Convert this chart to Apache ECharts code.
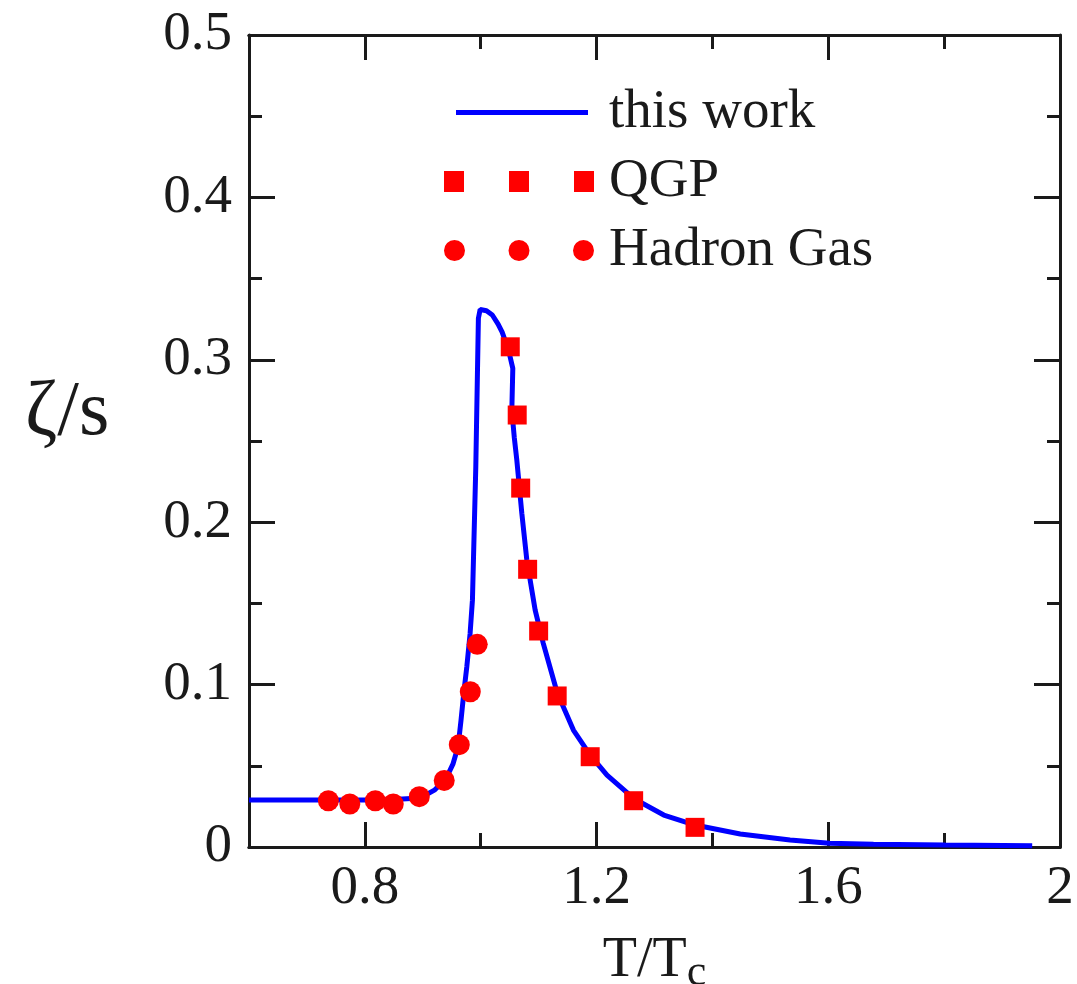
<!DOCTYPE html>
<html>
<head>
<meta charset="utf-8">
<script src="https://cdn.jsdelivr.net/npm/echarts@6/dist/echarts.min.js"></script>
<style>
  html, body { margin: 0; padding: 0; background: #fff; }
  #chart { width: 1077px; height: 984px; }
</style>
</head>
<body>
<div id="chart"></div>
<script>
// ζ/s vs T/Tc
const thisWork = [
    [0.60, 0.029], [0.70, 0.029], [0.80, 0.029], [0.85, 0.0292], [0.88, 0.0298],
    [0.90, 0.031], [0.92, 0.035], [0.94, 0.042], [0.952, 0.051], [0.961, 0.062],
    [0.966, 0.078], [0.971, 0.0956], [0.976, 0.111], [0.9817, 0.1315], [0.9857, 0.152],
    [0.9915, 0.234], [0.996, 0.3255], [0.999, 0.331], [1.01, 0.3302], [1.02, 0.3276],
    [1.03, 0.322], [1.037, 0.317], [1.048, 0.306], [1.0554, 0.2947],
    [1.0530, 0.2935], [1.0537, 0.269], [1.058, 0.252], [1.0623, 0.2383], [1.071, 0.2054],
    [1.0796, 0.1767], [1.094, 0.1459], [1.108, 0.1254], [1.132, 0.095], [1.16, 0.072],
    [1.189, 0.0566], [1.218, 0.0443], [1.264, 0.0299], [1.316, 0.0197], [1.370, 0.0135],
    [1.448, 0.008], [1.534, 0.0043], [1.602, 0.0023], [1.678, 0.0017], [1.802, 0.0012],
    [1.952, 0.0008]
];
const qgp = [
    [1.051, 0.308], [1.063, 0.266], [1.069, 0.221], [1.081, 0.171], [1.100, 0.133],
    [1.132, 0.093], [1.189, 0.0556], [1.264, 0.0285], [1.370, 0.0121]
];
const hadronGas = [
    [0.737, 0.0285], [0.774, 0.0265], [0.818, 0.0285], [0.849, 0.0265], [0.894, 0.031],
    [0.937, 0.041], [0.963, 0.063], [0.982, 0.0956], [0.994, 0.1248]
];
const xMajor = [0.8, 1.2, 1.6, 2];
const xMinor = [1.0, 1.4, 1.8];

const FONT = "'Liberation Serif', 'DejaVu Serif', serif";
const INK = '#1a1a1a';
const BLUE = '#0000ff';
const RED = '#ff0000';

var chart = echarts.init(document.getElementById('chart'));

function xAxisOf(pos, ticks, len, labels){
    return {
        type: 'value', position: pos, min: 0.6, max: 2,
        axisLine: { show: true, lineStyle: { color: INK, width: 3 } },
        axisTick: { show: true, inside: true, length: len, customValues: ticks,
                    lineStyle: { color: INK, width: 3 } },
        axisLabel: labels ? {
            show: true, customValues: ticks, margin: 14,
            fontFamily: FONT, fontSize: 55, color: INK
        } : { show: false },
        splitLine: { show: false }
    };
}
function yAxisOf(pos, labels){
    return {
        type: 'value', position: pos, min: 0, max: 0.5, interval: 0.1,
        axisLine: { show: true, lineStyle: { color: INK, width: 3 } },
        axisTick: { show: true, inside: true, length: 26, lineStyle: { color: INK, width: 3 } },
        minorTick: { show: true, splitNumber: 2, length: 13, lineStyle: { color: INK, width: 3 } },
        axisLabel: labels ? {
            show: true, margin: 17, fontFamily: FONT, fontSize: 55, color: INK
        } : { show: false },
        splitLine: { show: false },
        minorSplitLine: { show: false }
    };
}

var xBottom = xAxisOf('bottom', xMajor, 25, true);
xBottom.name = 'T/T{sub|c}';
xBottom.nameLocation = 'middle';
xBottom.nameGap = 80;
xBottom.nameTextStyle = {
    fontFamily: FONT, fontSize: 56, color: INK,
    rich: { sub: { fontFamily: FONT, fontSize: 44, color: INK, padding: [24, 0, 0, 0] } }
};

var option = {
    animation: false,
    backgroundColor: '#fff',
    title: {
        text: 'ζ/s', left: 20, top: 370,
        textStyle: { fontFamily: FONT, fontSize: 78, fontWeight: 'normal', color: INK }
    },
    grid: { left: 249, right: 17, top: 35, bottom: 137, outerBoundsMode: 'none', containLabel: false },
    legend: {
        orient: 'vertical', left: 439, top: 80,
        itemWidth: 150, itemHeight: 21, itemGap: 14,
        textStyle: { fontFamily: FONT, fontSize: 55, color: INK, lineHeight: 50, padding: [0, 0, 0, 10] },
        data: [
            { name: 'this work',
              icon: 'path://M0,0h0.1v0.1h-0.1z M12,8h132v5h-132z M149.9,20.9h0.1v0.1h-0.1z' },
            { name: 'QGP',
              icon: 'path://M0,0h20v21h-20z M65,0h20v21h-20z M130,0h20v21h-20z' },
            { name: 'Hadron Gas',
              icon: 'path://M0,10.5a10.5,10.5 0 1,0 21,0a10.5,10.5 0 1,0 -21,0z M64.5,10.5a10.5,10.5 0 1,0 21,0a10.5,10.5 0 1,0 -21,0z M129,10.5a10.5,10.5 0 1,0 21,0a10.5,10.5 0 1,0 -21,0z' }
        ]
    },
    xAxis: [
        xBottom,
        xAxisOf('bottom', xMinor, 14, false),
        xAxisOf('top', xMajor, 25, false),
        xAxisOf('top', xMinor, 14, false)
    ],
    yAxis: [yAxisOf('left', true), yAxisOf('right', false)],
    series: [
        { name: 'this work', type: 'line', data: thisWork, symbol: 'none',
          color: BLUE, lineStyle: { color: BLUE, width: 5 }, z: 2 },
        { name: 'QGP', type: 'scatter', data: qgp, symbol: 'rect', symbolSize: 19,
          itemStyle: { color: RED, opacity: 1 }, z: 3 },
        { name: 'Hadron Gas', type: 'scatter', data: hadronGas, symbol: 'circle', symbolSize: 21,
          itemStyle: { color: RED, opacity: 1 }, z: 3 }
    ]
};

chart.setOption(option);
</script>
</body>
</html>
